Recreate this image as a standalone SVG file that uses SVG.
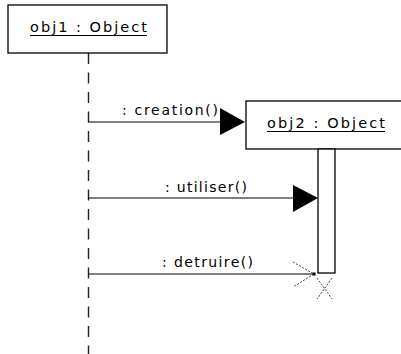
<svg xmlns="http://www.w3.org/2000/svg" width="401" height="354" viewBox="0 0 401 354">
<style>
.box{fill:#fff;stroke:#000;stroke-width:1.3}
.t{font-family:"DejaVu Sans",Verdana,sans-serif;font-size:14.5px;fill:#000}
.m{font-family:"DejaVu Sans",Verdana,sans-serif;font-size:14px;fill:#000}
.ln{stroke:#000;stroke-width:1.2;fill:none}
.life{stroke:#222;stroke-width:1.4;stroke-dasharray:11 8.5;fill:none}
.dot{stroke:#444;stroke-width:1;stroke-dasharray:2 1.5;fill:none}
</style>
<rect width="401" height="354" fill="#fff"/>
<g id="lifelines">
<line class="life" x1="88.5" y1="53" x2="88.5" y2="354"/>
</g>
<g id="obj1">
<rect class="box" x="8" y="5" width="159" height="48"/>
<text class="t" x="30" y="32" textLength="117" lengthAdjust="spacing">obj1 : Object</text>
<line class="ln" x1="30" y1="35.5" x2="147" y2="35.5"/>
</g>
<g id="obj2">
<rect class="box" x="246" y="101" width="160" height="48"/>
<text class="t" x="267" y="128" textLength="118" lengthAdjust="spacing">obj2 : Object</text>
<line class="ln" x1="267" y1="131.5" x2="385" y2="131.5"/>
</g>
<g id="activation">
<rect class="box" x="318" y="149" width="17" height="124"/>
</g>
<g id="connectors">
<line class="ln" x1="88.5" y1="122" x2="222" y2="122"/>
<polygon points="220,108 245,122 220,135" fill="#000"/>
<text class="m" x="122" y="115" textLength="96" lengthAdjust="spacing">: creation()</text>
<line class="ln" x1="88.5" y1="198" x2="295" y2="198"/>
<polygon points="293,185 318,198 293,212" fill="#000"/>
<text class="m" x="165" y="192" textLength="82" lengthAdjust="spacing">: utiliser()</text>
<line class="ln" x1="88.5" y1="274" x2="314" y2="274"/>
<rect x="312.5" y="272.5" width="3" height="3" fill="#000"/>
<polyline class="dot" points="293,262 314,274 293,287"/>
<text class="m" x="162" y="267" textLength="91" lengthAdjust="spacing">: detruire()</text>
<line class="dot" x1="317" y1="278" x2="332" y2="299"/>
<line class="dot" x1="332" y1="278" x2="317" y2="299"/>
</g>
</svg>
